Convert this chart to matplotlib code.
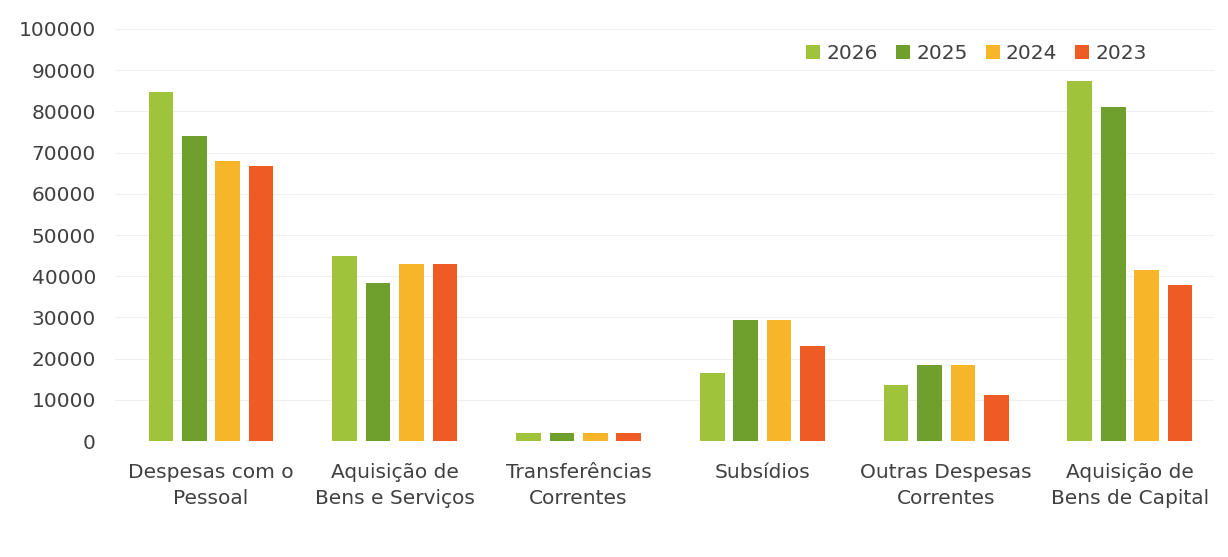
import matplotlib.pyplot as plt
import numpy as np

categories = ["Despesas com o\nPessoal", "Aquisição de\nBens e Serviços", "Transferências\nCorrentes",
              "Subsídios", "Outras Despesas\nCorrentes", "Aquisição de\nBens de Capital"]
years = ["2026", "2025", "2024", "2023"]
v2026 = [84700, 44800, 2000, 16500, 13600, 87400]
v2025 = [74000, 38400, 2000, 29400, 18500, 81000]
v2024 = [67900, 43000, 2000, 29400, 18500, 41600]
v2023 = [66700, 43000, 2000, 23100, 11200, 38000]
series = [v2026, v2025, v2024, v2023]
colors = ["#9fc43c", "#6f9f2d", "#f7b52a", "#ee5b25"]

fig = plt.figure(figsize=(12.28, 5.57), dpi=100)
ax = fig.add_axes([0.094, 0.208, 0.895, 0.74])

x = np.arange(len(categories))
step = 0.182
width = 0.134
for i, (vals, col, yr) in enumerate(zip(series, colors, years)):
    ax.bar(x + (i - 1.5) * step, vals, width, color=col, label=yr, zorder=2)

ax.set_xlim(-0.52, 5.46)
ax.set_ylim(0, 100000)
ax.set_yticks(np.arange(0, 100001, 10000))
ax.set_xticks(x)
ax.set_xticklabels(categories, fontsize=14.5, color="#404040", linespacing=1.45)
ax.tick_params(axis="y", labelsize=14.5, labelcolor="#404040", length=0, pad=14)
ax.tick_params(axis="x", length=0, pad=16)
ax.grid(axis="y", color="#f0f0f0", lw=0.8, zorder=0)
for s in ax.spines.values():
    s.set_visible(False)

ax.legend(loc="center right", bbox_to_anchor=(0.955, 0.94), ncol=4, frameon=False,
          fontsize=14.5, labelcolor="#404040", handlelength=0.7, handleheight=0.7,
          handletextpad=0.3, columnspacing=0.9)

fig.savefig("out.png", dpi=100)
